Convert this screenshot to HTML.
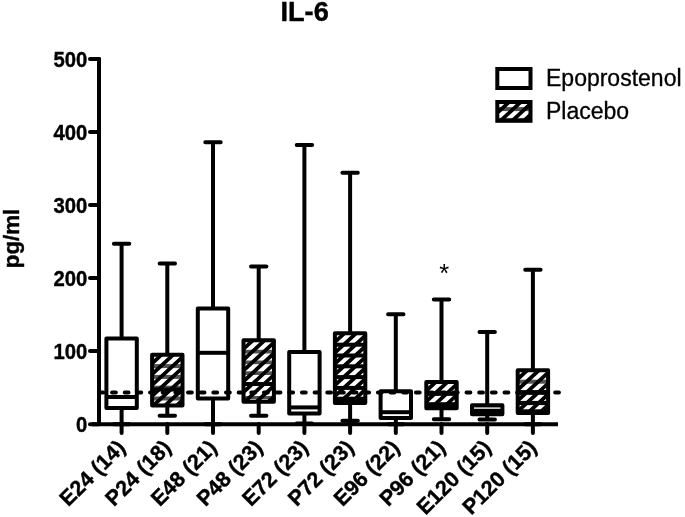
<!DOCTYPE html>
<html><head><meta charset="utf-8"><title>IL-6</title>
<style>
html,body{margin:0;padding:0;background:#fff;}
body{width:685px;height:517px;overflow:hidden;font-family:"Liberation Sans",sans-serif;}
svg{display:block;will-change:transform;}
text{font-family:"Liberation Sans",sans-serif;fill:#000;}
.b{font-weight:bold;stroke:#000;stroke-width:0.4px;}
.r{stroke:#000;stroke-width:0.3px;}
</style></head><body>
<svg width="685" height="517" viewBox="0 0 685 517">
<rect width="685" height="517" fill="#fff"/>

<text class="b" x="304.6" y="21.2" font-size="27.2" text-anchor="middle">IL-6</text>
<text class="b" transform="translate(19.3,238.5) rotate(-90)" font-size="22.3" text-anchor="middle">pg/ml</text>
<text class="b" transform="translate(87.2,432.0) scale(0.922,1)" font-size="22" text-anchor="end">0</text>
<text class="b" transform="translate(87.2,359.0) scale(0.922,1)" font-size="22" text-anchor="end">100</text>
<text class="b" transform="translate(87.2,286.0) scale(0.922,1)" font-size="22" text-anchor="end">200</text>
<text class="b" transform="translate(87.2,213.0) scale(0.922,1)" font-size="22" text-anchor="end">300</text>
<text class="b" transform="translate(87.2,140.0) scale(0.922,1)" font-size="22" text-anchor="end">400</text>
<text class="b" transform="translate(87.2,67.0) scale(0.922,1)" font-size="22" text-anchor="end">500</text>
<rect x="497.3" y="69" width="33.2" height="19" fill="#fff" stroke="#000" stroke-width="4"/>
<clipPath id="cl"><rect x="498.20" y="102.90" width="31.20" height="16.40"/></clipPath>
<g clip-path="url(#cl)" stroke="none">
<rect x="498.20" y="102.90" width="31.20" height="16.40" fill="#fff"/>
<rect x="498.20" y="107.10" width="31.20" height="4.00" fill="#525252"/>
<rect x="498.20" y="117.90" width="31.20" height="2.40" fill="#525252"/>
<path d="M476.50,121.30 L498.60,100.90 M488.20,121.30 L510.30,100.90 M499.90,121.30 L522.00,100.90 M511.60,121.30 L533.70,100.90 M523.30,121.30 L545.40,100.90" stroke="#000" stroke-width="3.8" fill="none" stroke-linecap="butt"/>
</g>
<rect x="497.3" y="102" width="33.2" height="18.8" fill="none" stroke="#000" stroke-width="4"/>
<text class="r" x="546" y="85.8" font-size="23">Epoprostenol</text>
<text class="r" x="546" y="118.6" font-size="23">Placebo</text>
<text x="444.1" y="281.8" font-size="25.5" text-anchor="middle">*</text>
<g stroke="#000" stroke-width="4" stroke-linecap="round" fill="none">
<path d="M121.6,243.8 V338.4 M121.6,408.0 V424.2 M113.9,243.8 H129.3 M113.9,424.2 H129.3"/>
<rect x="106.4" y="338.4" width="30.4" height="69.6" fill="#fff" stroke-linejoin="round"/>
<path d="M106.4,397.0 H136.8" stroke-linecap="butt"/>
<path d="M167.3,263.5 V354.7 M167.3,405.4 V415.8 M159.6,263.5 H175.0 M159.6,415.8 H175.0"/>
<clipPath id="c1"><rect x="153.10" y="355.70" width="28.40" height="48.70"/></clipPath>
<g clip-path="url(#c1)" stroke="none">
<rect x="153.10" y="355.70" width="28.40" height="48.70" fill="#fff"/>
<rect x="153.10" y="364.10" width="28.40" height="4.00" fill="#525252"/>
<rect x="153.10" y="374.90" width="28.40" height="4.00" fill="#525252"/>
<rect x="153.10" y="385.70" width="28.40" height="4.00" fill="#525252"/>
<rect x="153.10" y="396.50" width="28.40" height="4.00" fill="#525252"/>
<path d="M93.90,406.40 L150.99,353.70 M105.60,406.40 L162.69,353.70 M117.30,406.40 L174.39,353.70 M129.00,406.40 L186.09,353.70 M140.70,406.40 L197.79,353.70 M152.40,406.40 L209.49,353.70 M164.10,406.40 L221.19,353.70 M175.80,406.40 L232.89,353.70" stroke="#000" stroke-width="3.8" fill="none" stroke-linecap="butt"/>
</g>
<rect x="152.1" y="354.7" width="30.4" height="50.7" fill="none" stroke-linejoin="round"/>
<path d="M152.1,389.5 H182.5" stroke-linecap="butt"/>
<path d="M213.0,142.2 V308.4 M213.0,398.5 V424.2 M205.3,142.2 H220.7 M205.3,424.2 H220.7"/>
<rect x="197.8" y="308.4" width="30.4" height="90.1" fill="#fff" stroke-linejoin="round"/>
<path d="M197.8,352.8 H228.2" stroke-linecap="butt"/>
<path d="M258.7,266.6 V340.2 M258.7,401.7 V415.8 M251.0,266.6 H266.4 M251.0,415.8 H266.4"/>
<clipPath id="c3"><rect x="244.50" y="341.20" width="28.40" height="59.50"/></clipPath>
<g clip-path="url(#c3)" stroke="none">
<rect x="244.50" y="341.20" width="28.40" height="59.50" fill="#fff"/>
<rect x="244.50" y="349.80" width="28.40" height="3.70" fill="#525252"/>
<rect x="244.50" y="360.50" width="28.40" height="3.70" fill="#525252"/>
<rect x="244.50" y="371.30" width="28.40" height="3.70" fill="#525252"/>
<rect x="244.50" y="396.00" width="28.40" height="3.20" fill="#525252"/>
<path d="M173.60,402.70 L242.39,339.20 M185.30,402.70 L254.09,339.20 M197.00,402.70 L265.79,339.20 M208.70,402.70 L277.49,339.20 M220.40,402.70 L289.19,339.20 M232.10,402.70 L300.89,339.20 M243.80,402.70 L312.59,339.20 M255.50,402.70 L324.29,339.20 M267.20,402.70 L335.99,339.20" stroke="#000" stroke-width="3.8" fill="none" stroke-linecap="butt"/>
</g>
<rect x="243.5" y="340.2" width="30.4" height="61.5" fill="none" stroke-linejoin="round"/>
<path d="M243.5,384.0 H273.9" stroke-linecap="butt"/>
<path d="M304.4,145.1 V352.0 M304.4,413.4 V423.4 M296.7,145.1 H312.1 M296.7,423.4 H312.1"/>
<rect x="289.2" y="352.0" width="30.4" height="61.4" fill="#fff" stroke-linejoin="round"/>
<path d="M289.2,407.4 H319.6" stroke-linecap="butt"/>
<path d="M350.1,172.8 V333.3 M350.1,403.0 V420.8 M342.4,172.8 H357.8 M342.4,420.8 H357.8"/>
<clipPath id="c5"><rect x="335.90" y="334.30" width="28.40" height="67.70"/></clipPath>
<g clip-path="url(#c5)" stroke="none">
<rect x="335.90" y="334.30" width="28.40" height="67.70" fill="#fff"/>
<rect x="335.90" y="342.70" width="28.40" height="4.00" fill="#000"/>
<rect x="335.90" y="353.50" width="28.40" height="4.00" fill="#000"/>
<rect x="335.90" y="364.30" width="28.40" height="4.00" fill="#000"/>
<rect x="335.90" y="375.10" width="28.40" height="4.00" fill="#000"/>
<rect x="335.90" y="385.90" width="28.40" height="4.00" fill="#000"/>
<rect x="335.90" y="396.70" width="28.40" height="6.30" fill="#000"/>
<path d="M256.12,404.00 L333.79,332.30 M267.82,404.00 L345.49,332.30 M279.52,404.00 L357.19,332.30 M291.22,404.00 L368.89,332.30 M302.92,404.00 L380.59,332.30 M314.62,404.00 L392.29,332.30 M326.32,404.00 L403.99,332.30 M338.02,404.00 L415.69,332.30 M349.72,404.00 L427.39,332.30 M361.42,404.00 L439.09,332.30" stroke="#000" stroke-width="3.8" fill="none" stroke-linecap="butt"/>
</g>
<rect x="334.9" y="333.3" width="30.4" height="69.7" fill="none" stroke-linejoin="round"/>
<path d="M334.9,399.0 H365.3" stroke-linecap="butt"/>
<path d="M395.8,314.3 V391.2 M395.8,418.0 V424.2 M388.1,314.3 H403.5 M388.1,424.2 H403.5"/>
<rect x="380.6" y="391.2" width="30.4" height="26.8" fill="#fff" stroke-linejoin="round"/>
<path d="M380.6,412.2 H411.0" stroke-linecap="butt"/>
<path d="M441.5,299.5 V382.0 M441.5,408.3 V419.3 M433.8,299.5 H449.2 M433.8,419.3 H449.2"/>
<clipPath id="c7"><rect x="427.30" y="383.00" width="28.40" height="24.30"/></clipPath>
<g clip-path="url(#c7)" stroke="none">
<rect x="427.30" y="383.00" width="28.40" height="24.30" fill="#fff"/>
<rect x="427.30" y="391.40" width="28.40" height="4.00" fill="#000"/>
<rect x="427.30" y="402.20" width="28.40" height="6.10" fill="#000"/>
<path d="M394.53,409.30 L425.19,381.00 M406.23,409.30 L436.89,381.00 M417.93,409.30 L448.59,381.00 M429.63,409.30 L460.29,381.00 M441.33,409.30 L471.99,381.00 M453.03,409.30 L483.69,381.00" stroke="#000" stroke-width="3.8" fill="none" stroke-linecap="butt"/>
</g>
<rect x="426.3" y="382.0" width="30.4" height="26.3" fill="none" stroke-linejoin="round"/>
<path d="M426.3,393.8 H456.7" stroke-linecap="butt"/>
<path d="M487.2,332.0 V405.3 M487.2,414.2 V419.6 M479.5,332.0 H494.9 M479.5,419.6 H494.9"/>
<rect x="472.0" y="405.3" width="30.4" height="8.9" fill="#c4c4c4" stroke-linejoin="round"/>
<path d="M472.0,411.0 H502.4" stroke-linecap="butt"/>
<path d="M532.9,269.8 V370.3 M532.9,413.0 V424.2 M525.2,269.8 H540.6 M525.2,424.2 H540.6"/>
<clipPath id="c9"><rect x="518.70" y="371.30" width="28.40" height="40.70"/></clipPath>
<g clip-path="url(#c9)" stroke="none">
<rect x="518.70" y="371.30" width="28.40" height="40.70" fill="#fff"/>
<rect x="518.70" y="379.70" width="28.40" height="4.00" fill="#525252"/>
<rect x="518.70" y="390.30" width="28.40" height="4.40" fill="#000"/>
<rect x="518.70" y="400.90" width="28.40" height="4.20" fill="#000"/>
<rect x="518.70" y="409.30" width="28.40" height="2.50" fill="#000"/>
<path d="M468.17,414.00 L516.59,369.30 M479.87,414.00 L528.29,369.30 M491.57,414.00 L539.99,369.30 M503.27,414.00 L551.69,369.30 M514.97,414.00 L563.39,369.30 M526.67,414.00 L575.09,369.30 M538.37,414.00 L586.79,369.30 M550.07,414.00 L598.49,369.30" stroke="#000" stroke-width="3.8" fill="none" stroke-linecap="butt"/>
</g>
<rect x="517.7" y="370.3" width="30.4" height="42.7" fill="none" stroke-linejoin="round"/>
<path d="M517.7,392.4 H548.1" stroke-linecap="butt"/>
<path d="M121.6,424 V433.0"/>
<path d="M167.3,424 V433.0"/>
<path d="M213.0,424 V433.0"/>
<path d="M258.7,424 V433.0"/>
<path d="M304.4,424 V433.0"/>
<path d="M350.1,424 V433.0"/>
<path d="M395.8,424 V433.0"/>
<path d="M441.5,424 V433.0"/>
<path d="M487.2,424 V433.0"/>
<path d="M532.9,424 V433.0"/>
<path d="M99,59 V424"/>
<path d="M90,351.0 H99"/>
<path d="M90,278.0 H99"/>
<path d="M90,205.0 H99"/>
<path d="M90,132.0 H99"/>
<path d="M90,59.0 H99"/>
<path d="M90,424.2 H99"/><path d="M92,424.2 H558" stroke-linecap="butt"/>
<path d="M99.4,392.4 H559.5" stroke-dasharray="3.8 8.86"/>
</g>
<text class="b" transform="translate(126.6,449.0) rotate(-45)" font-size="21.5" text-anchor="end">E24 (14)</text>
<text class="b" transform="translate(172.3,449.0) rotate(-45)" font-size="21.5" text-anchor="end">P24 (18)</text>
<text class="b" transform="translate(218.0,449.0) rotate(-45)" font-size="21.5" text-anchor="end">E48 (21)</text>
<text class="b" transform="translate(263.7,449.0) rotate(-45)" font-size="21.5" text-anchor="end">P48 (23)</text>
<text class="b" transform="translate(309.4,449.0) rotate(-45)" font-size="21.5" text-anchor="end">E72 (23)</text>
<text class="b" transform="translate(355.1,449.0) rotate(-45)" font-size="21.5" text-anchor="end">P72 (23)</text>
<text class="b" transform="translate(400.8,449.0) rotate(-45)" font-size="21.5" text-anchor="end">E96 (22)</text>
<text class="b" transform="translate(446.5,449.0) rotate(-45)" font-size="21.5" text-anchor="end">P96 (21)</text>
<text class="b" transform="translate(492.2,449.0) rotate(-45)" font-size="21.5" text-anchor="end">E120 (15)</text>
<text class="b" transform="translate(537.9,449.0) rotate(-45)" font-size="21.5" text-anchor="end">P120 (15)</text>
</svg></body></html>
